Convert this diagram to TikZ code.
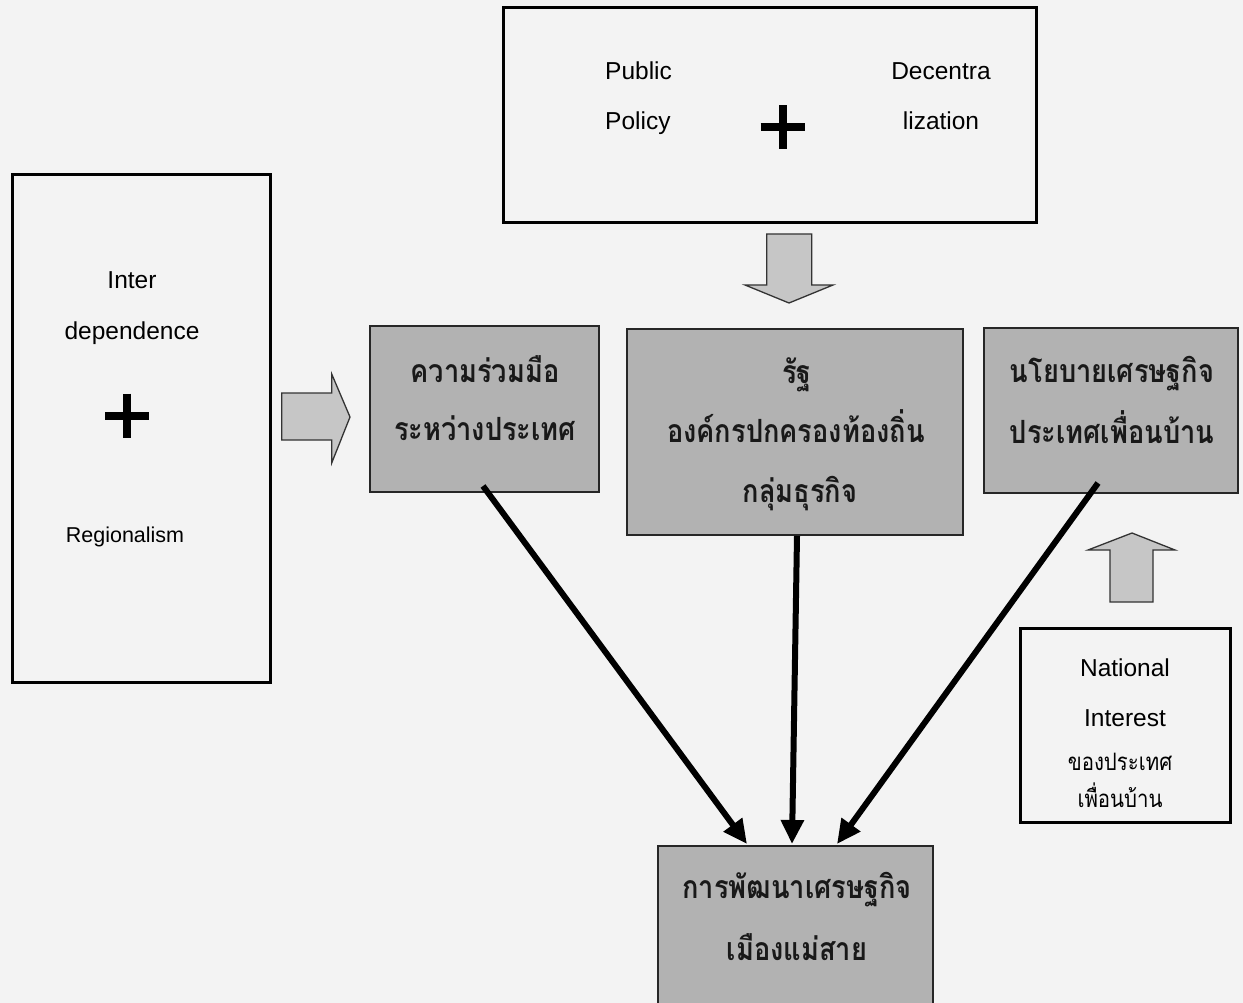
\documentclass[tikz,border=0pt]{standalone}
\usepackage{fontspec}
\setmainfont{Liberation Sans}
\newfontfamily\thaifont[Script=Thai,FakeStretch=0.85]{Loma}
\usetikzlibrary{arrows.meta,calc}
\definecolor{paper}{RGB}{243,243,243}
\definecolor{boxgray}{RGB}{178,178,178}
\definecolor{arrgray}{RGB}{198,198,198}
\begin{document}
\begin{tikzpicture}[x=1pt,y=-1pt,
  whitebox/.style={draw=black, line width=3pt, fill=paper, inner sep=0pt},
  graybox/.style={draw=black!85, line width=2pt, fill=boxgray, inner sep=0pt},
  engtxt/.style={font=\fontsize{24.5}{28}\selectfont, text=black, inner sep=0pt, anchor=base},
  smalleng/.style={font=\fontsize{21.5}{25}\selectfont, text=black, inner sep=0pt, anchor=base},
  thaitxt/.style={font=\thaifont\bfseries\fontsize{32}{36}\selectfont, text=black!90, inner sep=0pt, anchor=base},
  thaismall/.style={font=\thaifont\fontsize{24}{28}\selectfont, text=black, inner sep=0pt, anchor=base},
  plussign/.style={line width=8pt, black},
  blockarrow/.style={draw=black!80, line width=1.3pt, fill=arrgray, line join=miter},
  conn/.style={line width=6pt, black, -{Triangle[length=24pt,width=22pt]}}
]
\fill[paper] (0,0) rectangle (1243,1003);
\useasboundingbox (0,0) rectangle (1243,1003);

% top box
\node[whitebox, minimum width=533pt, minimum height=215pt] (top) at (769.5,115.5) {};
\node[engtxt, anchor=base west] (pub) at (605,80) {Public};
\node[engtxt, anchor=base west] (pol) at (605,130) {Policy};
\node[engtxt] (dec) at (941,80) {Decentra};
\node[engtxt] (liz) at (941,130) {lization};
\draw[plussign] (760.5,127.5) -- (804.5,127.5) (782.5,105.5) -- (782.5,149.5);

% down block arrow
\draw[blockarrow] (766.7,234) -- (811.7,234) -- (811.7,285) -- (833,285) -- (789,303) -- (745,285) -- (766.7,285) -- cycle;

% left box
\node[whitebox, minimum width=258pt, minimum height=507pt] (left) at (141,428.5) {};
\node[engtxt] (inter) at (132,289) {Inter};
\node[engtxt] (dep) at (132,339) {dependence};
\node[smalleng] (reg) at (125,542) {Regionalism};
\draw[plussign] (105,415.5) -- (149,415.5) (127,393.5) -- (127,437.5);

% right block arrow
\draw[blockarrow] (281.7,393) -- (331.7,393) -- (331.7,374) -- (350,417) -- (331.7,463) -- (331.7,440) -- (281.7,440) -- cycle;

% gray boxes
\node[graybox, minimum width=229pt, minimum height=166pt] (A) at (484.5,409) {};
\node[thaitxt] (A1) at (485,382) {ความร่วมมือ};
\node[thaitxt] (A2) at (485,440) {ระหว่างประเทศ};

\node[graybox, minimum width=336pt, minimum height=206pt] (B) at (795,432) {};
\node[thaitxt] (B1) at (797,383) {รัฐ};
\node[thaitxt] (B2) at (796,442) {องค์กรปกครองท้องถิ่น};
\node[thaitxt] (B3) at (800,502) {กลุ่มธุรกิจ};

\node[graybox, minimum width=254pt, minimum height=165pt] (C) at (1111,410.5) {};
\node[thaitxt] (C1) at (1112,382) {นโยบายเศรษฐกิจ};
\node[thaitxt] (C2) at (1112,443) {ประเทศเพื่อนบ้าน};

\node[graybox, minimum width=275pt, minimum height=190pt, anchor=north] (D) at (795.5,845) {};
\node[thaitxt] (D1) at (797,898) {การพัฒนาเศรษฐกิจ};
\node[thaitxt] (D2) at (797,960) {เมืองแม่สาย};

% up block arrow
\draw[blockarrow] (1110,602) -- (1153,602) -- (1153,550) -- (1175,550) -- (1132,533) -- (1088,550) -- (1110,550) -- cycle;

% national interest box
\node[whitebox, minimum width=210pt, minimum height=194pt] (NI) at (1125,725) {};
\node[engtxt] (nat) at (1125,676) {National};
\node[engtxt] (int) at (1125,726) {Interest};
\node[thaismall] (nb1) at (1120,770) {ของประเทศ};
\node[thaismall] (nb2) at (1120,807) {เพื่อนบ้าน};

% connectors
\draw[conn] ($(A.south)+(-1.5,-7)$) -- ($(D.north)+(-48.5,-1)$);
\draw[conn] ($(B.south)+(2,0)$) -- ($(D.north)+(-3.5,-1)$);
\draw[conn] ($(C.south)+(-13,-11)$) -- ($(D.north)+(41.5,-1)$);
\end{tikzpicture}
\end{document}
